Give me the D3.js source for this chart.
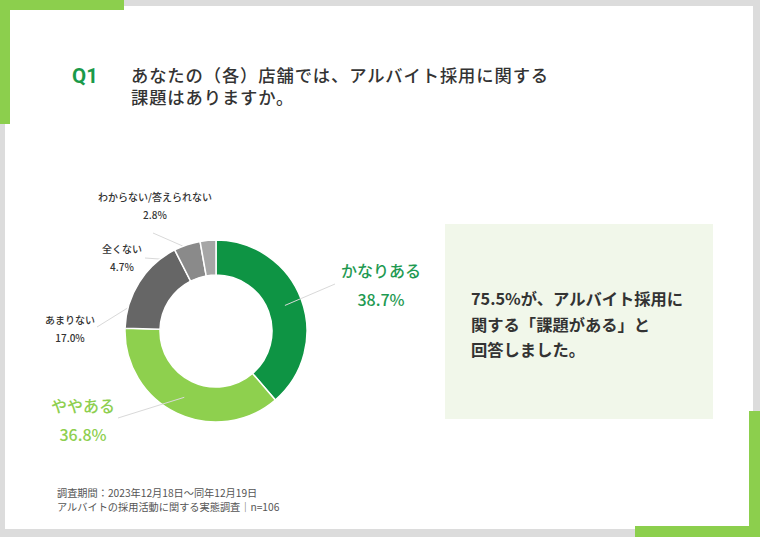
<!DOCTYPE html>
<html><head><meta charset="utf-8">
<script src="https://cdn.jsdelivr.net/npm/d3@7"></script>
<style>
html,body{margin:0;padding:0;background:#fff;}
svg{display:block;font-family:"Noto Sans CJK JP","Noto Sans",sans-serif;}
</style></head>
<body>
<svg id="c" width="760" height="537"></svg>
<script>
const categories = ["かなりある","ややある","あまりない","全くない","わからない/答えられない"];
const values = [38.7, 36.8, 17.0, 4.7, 2.8];
const valueLabels = ["38.7%","36.8%","17.0%","4.7%","2.8%"];
const colors = ["#0e9444","#8ed04e","#666666","#8a8a8a","#a6a6a6"];
const titleQ = "Q1";
const titleLines = ["あなたの（各）店舗では、アルバイト採用に関する","課題はありますか。"];
const boxLines = ["75.5%が、アルバイト採用に","関する「課題がある」と","回答しました。"];
const footLines = ["調査期間：2023年12月18日～同年12月19日","アルバイトの採用活動に関する実態調査｜n=106"];

// label layout (annotation anchors)
const labelLayout = [
  {x:381, y:270, dy:29, size:16, color:"#1f9a52", lx:335, ly:284, front:true},
  {x:83,  y:405, dy:29, size:16, color:"#8ecf4f", lx:118, ly:418, front:true},
  {x:70,  y:319, dy:18, size:10, color:"#333", lx:97, ly:327, front:false},
  {x:122, y:248, dy:18, size:10, color:"#333", lx:145, ly:258, front:false},
  {x:155, y:196, dy:18, size:10, color:"#333", lx:153, ly:233, front:false}
];

const svg = d3.select("#c");
// frame
svg.append("rect").attr("x",0).attr("y",0).attr("width",760).attr("height",537).attr("fill","#dcdcdc");
svg.append("rect").attr("x",5).attr("y",6).attr("width",748).attr("height",523).attr("fill","#fff");
const g1 = "#8ccf4d";
svg.append("rect").attr("x",0).attr("y",0).attr("width",124).attr("height",10).attr("fill",g1);
svg.append("rect").attr("x",0).attr("y",0).attr("width",10).attr("height",124).attr("fill",g1);
svg.append("rect").attr("x",635).attr("y",526).attr("width",125).attr("height",11).attr("fill",g1);
svg.append("rect").attr("x",749).attr("y",411).attr("width",11).attr("height",126).attr("fill",g1);

// title
svg.append("text").attr("x",72).attr("y",83).attr("fill","#1a9a4a").attr("font-size",20.5).attr("font-weight",700)
  .attr("font-family","Roboto, 'Noto Sans', sans-serif").text(titleQ);
svg.selectAll("text.t").data(titleLines).join("text").attr("class","t")
  .attr("x",131).attr("y",(d,i)=>81.5+i*22.5).attr("font-size",17.3).attr("font-weight",500)
  .attr("letter-spacing",0.9).attr("fill","#333").text(d=>d);

// box
svg.append("rect").attr("x",445).attr("y",224).attr("width",268).attr("height",195).attr("fill","#f1f7ea");
svg.selectAll("text.b").data(boxLines).join("text").attr("class","b")
  .attr("x",471).attr("y",(d,i)=>298+i*25.5).attr("dominant-baseline","central")
  .attr("font-size",16.3).attr("font-weight",700).attr("fill","#333").text(d=>d);

// footer
svg.selectAll("text.f").data(footLines).join("text").attr("class","f")
  .attr("x",57).attr("y",(d,i)=>492.5+i*13.5).attr("dominant-baseline","central")
  .attr("font-size",10.2).attr("fill","#555").text(d=>d);

// donut
const cx=216, cy=331, rO=91, rI=56;
const pie = d3.pie().sort(null).value(d=>d);
const arcs = pie(values);
const arc = d3.arc().innerRadius(rI).outerRadius(rO);
const backLines = svg.append("g");
const g = svg.append("g").attr("transform",`translate(${cx},${cy})`);
g.selectAll("path").data(arcs).join("path").attr("d",arc)
  .attr("fill",(d,i)=>colors[i]).attr("stroke","#fff").attr("stroke-width",1.5);
const frontLines = svg.append("g");

// leader lines
arcs.forEach((a,i)=>{
  const c = arc.centroid(a);
  const L = labelLayout[i];
  (L.front ? frontLines : backLines).append("line")
    .attr("x1",cx+c[0]).attr("y1",cy+c[1]).attr("x2",L.lx).attr("y2",L.ly)
    .attr("stroke","#d9d9d9").attr("stroke-width",1);
});

// labels
categories.forEach((c,i)=>{
  const L = labelLayout[i];
  svg.append("text").attr("x",L.x).attr("y",L.y).attr("text-anchor","middle").attr("dominant-baseline","central")
    .attr("font-size",L.size).attr("fill",L.color).attr("font-weight",500).text(c);
  svg.append("text").attr("x",L.x).attr("y",L.y+L.dy).attr("text-anchor","middle").attr("dominant-baseline","central")
    .attr("font-size",L.size).attr("fill",L.color).attr("font-weight",500).text(valueLabels[i]);
});
</script>
</body></html>
